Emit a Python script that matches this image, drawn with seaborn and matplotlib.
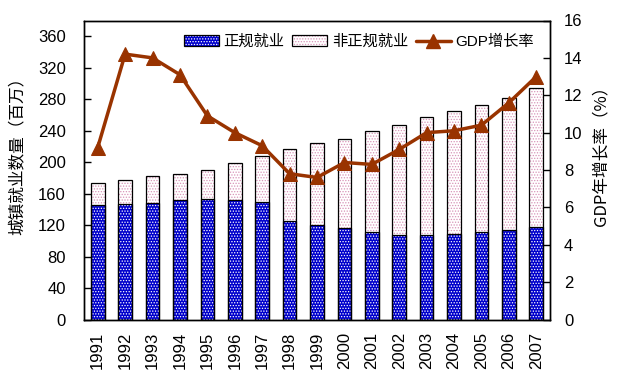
import numpy as np
import matplotlib
matplotlib.use("Agg")
import matplotlib.pyplot as plt
import seaborn as sns
from matplotlib.patches import Patch, Rectangle
from matplotlib.lines import Line2D
from matplotlib.legend_handler import HandlerTuple

# data
years = [str(y) for y in range(1991, 2008)]
total_jobs = [173.5, 177, 182, 185, 190, 199, 208, 217, 224, 230, 239, 247, 257, 265, 272, 282, 294]
formal_jobs = [145.5, 147, 148, 152, 153, 152, 149, 125, 120, 116, 111, 107.5, 107.5, 109, 111, 114, 117.5]
gdp_growth = [9.2, 14.2, 14.0, 13.1, 10.9, 10.0, 9.3, 7.8, 7.6, 8.4, 8.3, 9.1, 10.0, 10.1, 10.4, 11.6, 13.0]

blue = "#0000CC"
pink_dot = "#D894B8"
brown = "#993300"

sns.set_theme(style="white")
plt.rcParams["font.family"] = ["Liberation Sans", "Noto Sans CJK SC"]
plt.rcParams["hatch.linewidth"] = 0.6
plt.rcParams["axes.linewidth"] = 1.0
for k in ("text.color", "axes.labelcolor", "xtick.color", "ytick.color"):
    plt.rcParams[k] = "black"

fig, ax = plt.subplots(figsize=(6.25, 3.8), dpi=100)
fig.subplots_adjust(left=84 / 625, right=550 / 625, bottom=60.5 / 380, top=1 - 20.5 / 380)

sns.barplot(x=years, y=total_jobs, color="white", width=0.5, saturation=1, ax=ax)
n_total = len(ax.patches)
sns.barplot(x=years, y=formal_jobs, color=blue, width=0.5, saturation=1, ax=ax)

for i, p in enumerate(list(ax.patches)):
    p.set_linewidth(0)
    if i < n_total:
        p.set_hatch("......")
        p.set_edgecolor(pink_dot)
    else:
        p.set_hatch("......")
        p.set_edgecolor("white")
    ax.add_patch(Rectangle(p.get_xy(), p.get_width(), p.get_height(),
                           fill=False, edgecolor="black", linewidth=0.9, zorder=3))

ax.set_ylim(0, 380)
ax.set_yticks(np.arange(0, 361, 40))
ax.set_xlim(-0.5, len(years) - 0.5)
ax.set_ylabel("城镇就业数量（百万）", fontsize=12, family=["Noto Sans CJK SC"])
ax.yaxis.set_label_coords(-(84 - 26) / 466, 0.56)
ax.set_xlabel("")

ax2 = ax.twinx()
sns.lineplot(x=np.arange(len(years)), y=gdp_growth, color=brown, linewidth=2.5,
             marker="^", markersize=10, markeredgecolor=brown, ax=ax2)
ax2.set_ylim(0, 16)
ax2.set_yticks(np.arange(0, 17, 2))
ax2.set_xlim(-0.5, len(years) - 0.5)
ax2.set_ylabel("GDP年增长率（%）", fontsize=12, family=["Noto Sans CJK SC", "DejaVu Sans"])
ax2.yaxis.set_label_coords(1 + (592 - 550) / 466, 0.56)

# ticks
ax.set_xticks(np.arange(len(years)))
ax.set_xticklabels(years, rotation=90, fontsize=12)
ax.set_xticks(np.arange(-0.5, len(years), 1), minor=True)
ax.tick_params(axis="x", which="major", length=0, pad=9)
ax.tick_params(axis="x", which="minor", direction="in", length=5, width=1, color="black")
ax.tick_params(axis="y", direction="in", length=5, width=1, color="black", pad=13, labelsize=12, left=True)
ax2.tick_params(axis="y", direction="in", length=5, width=1, color="black", pad=10, labelsize=12, right=True)
ax2.tick_params(axis="x", length=0)

for a in (ax, ax2):
    for s in a.spines.values():
        s.set_visible(True)
        s.set_color("black")
        s.set_linewidth(1.0)

handles = [
    (Patch(facecolor=blue, edgecolor="white", hatch="......", linewidth=0),
     Patch(fill=False, edgecolor="black", linewidth=0.9)),
    (Patch(facecolor="white", edgecolor=pink_dot, hatch="......", linewidth=0),
     Patch(fill=False, edgecolor="black", linewidth=0.9)),
    Line2D([], [], color=brown, linewidth=2.5, marker="^", markersize=10),
]
labels = ["正规就业", "非正规就业", "GDP增长率"]
ax2.legend(handles, labels, handler_map={tuple: HandlerTuple(ndivide=1, pad=0)},
           loc="upper right", bbox_to_anchor=(0.995, 0.998), ncol=3, frameon=False,
           handlelength=2.3, handletextpad=0.3, columnspacing=0.5,
           prop={"family": ["Liberation Sans", "Noto Sans CJK SC"], "size": 11})

fig.savefig("out.png", dpi=100)
